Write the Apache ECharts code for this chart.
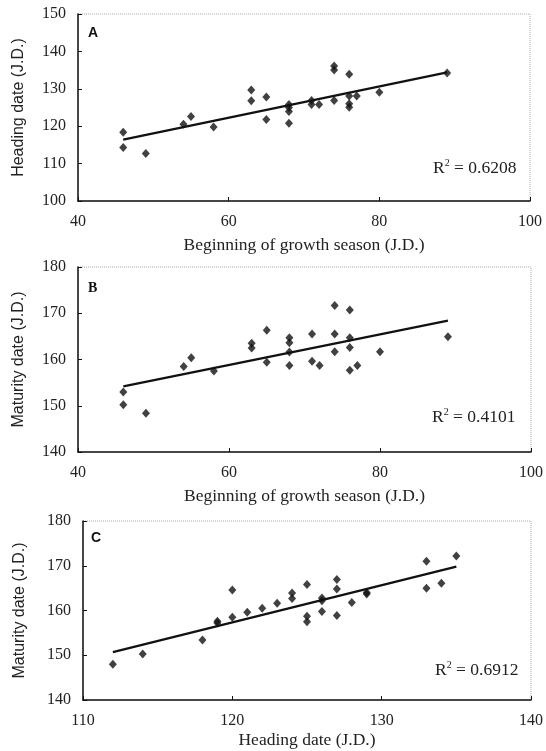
<!DOCTYPE html>
<html>
<head>
<meta charset="utf-8">
<script src="https://cdn.jsdelivr.net/npm/echarts@6/dist/echarts.min.js"></script>
<style>
  html, body { margin: 0; padding: 0; background: #fff; }
  #main { width: 546px; height: 751px; }
</style>
</head>
<body>
<div id="main"></div>
<script>
// panel A: beginning of growth season vs heading date
const pointsA = [
  [46, 118.4], [46, 114.3], [49, 112.7], [54, 120.5], [55, 122.6], [58, 119.8],
  [63, 129.7], [63, 126.8], [65, 127.8], [65, 121.8],
  [68, 125.8], [68, 125.0], [68, 123.9], [68, 120.8],
  [71, 126.9], [71, 125.8], [72, 125.8],
  [74, 126.9], [74, 136.1], [74, 135.0],
  [76, 133.9], [76, 128.1], [76, 126.0], [76, 125.1],
  [77, 128.1], [80, 129.1], [89, 134.2]
]
const trendA = [[46, 116.4], [89, 134.4]]

// panel B: beginning of growth season vs maturity date
const pointsB = [
  [46, 153.0], [46, 150.2], [49, 148.4], [54, 158.5], [55, 160.4], [58, 157.5],
  [63, 163.5], [63, 162.5], [65, 166.3], [65, 159.4],
  [68, 164.7], [68, 163.6], [68, 161.6], [68, 158.7],
  [71, 165.5], [71, 159.6], [72, 158.7],
  [74, 171.7], [74, 165.5], [74, 161.7],
  [76, 170.7], [76, 164.7], [76, 162.6], [76, 157.7],
  [77, 158.7], [80, 161.7], [89, 164.9]
]
const trendB = [[46, 154.2], [89, 168.4]]

// panel C: heading date vs maturity date
const pointsC = [
  [112, 148.0], [114, 150.3], [118, 153.4], [119, 157.2], [119, 157.6],
  [120, 164.6], [120, 158.5], [121, 159.6], [122, 160.5], [123, 161.6],
  [124, 163.9], [124, 162.7], [125, 165.8], [125, 158.7], [125, 157.5],
  [126, 162.8], [126, 162.2], [126, 159.8],
  [127, 166.9], [127, 164.8], [127, 158.9], [128, 161.8],
  [129, 164.0], [129, 163.7], [133, 171.0], [133, 165.0], [134, 166.1], [135, 172.2]
]
const trendC = [[112, 150.7], [135, 169.8]]

const r2Labels = ['0.6208', '0.4101', '0.6912']
const panelLabels = ['A', 'B', 'C']
const xNames = ['Beginning of growth season (J.D.)', 'Beginning of growth season (J.D.)', 'Heading date (J.D.)']
const yNames = ['Heading date (J.D.)', 'Maturity date (J.D.)', 'Maturity date (J.D.)']
const xRanges = [[40, 100, 20], [40, 100, 20], [110, 140, 10]]
const yRanges = [[100, 150, 10], [140, 180, 10], [140, 180, 10]]

const grids = [
  {left: 78, top: 14, width: 452, height: 187},
  {left: 78, top: 267, width: 454, height: 185},
  {left: 83, top: 521, width: 449, height: 179}
]
// where the panel letter and the R² note sit
const letterPos = [[88, 26], [88, 281], [91, 531]]
const r2Pos = [[433, 168], [432, 417], [435, 670]]
const xNameGap = [35, 35, 31]
const yNameGap = [51, 51, 55]

const serif = '"Liberation Serif", "DejaVu Serif", serif'
const sans = '"Liberation Sans", Arial, sans-serif'

const chart = echarts.init(document.getElementById('main'), null, {renderer: 'canvas'})

let xAxes = [], yAxes = [], series = [], graphics = []
grids.forEach((g, i) => {
  xAxes.push({
    gridIndex: i, type: 'value',
    min: xRanges[i][0], max: xRanges[i][1], interval: xRanges[i][2],
    name: xNames[i], nameLocation: 'middle', nameGap: xNameGap[i],
    nameTextStyle: {fontFamily: serif, fontSize: 17.5, color: '#222'},
    axisLine: {show: true, lineStyle: {color: '#111', width: 1.5}},
    axisTick: {show: true, inside: true, length: 4, lineStyle: {color: '#111'}},
    axisLabel: {fontFamily: serif, fontSize: 16, color: '#222', margin: 13},
    splitLine: {show: false}
  })
  yAxes.push({
    gridIndex: i, type: 'value',
    min: yRanges[i][0], max: yRanges[i][1], interval: yRanges[i][2],
    name: yNames[i], nameLocation: 'middle', nameGap: yNameGap[i],
    nameTextStyle: {fontFamily: sans, fontSize: 16, color: '#222'},
    axisLine: {show: true, lineStyle: {color: '#111', width: 1.5}},
    axisTick: {show: true, inside: true, length: 4, lineStyle: {color: '#111'}},
    axisLabel: {fontFamily: serif, fontSize: 16, color: '#222', margin: 12},
    splitLine: {show: false}
  })
  graphics.push({
    type: 'text', x: letterPos[i][0], y: letterPos[i][1],
    style: {text: panelLabels[i], font: 'bold 14px ' + (i === 1 ? serif : sans), fill: '#111'}
  })
  graphics.push({
    type: 'text', x: r2Pos[i][0], y: r2Pos[i][1],
    style: {
      text: '{a|R}{s|2}{a| = ' + r2Labels[i] + '}',
      verticalAlign: 'middle',
      rich: {
        a: {fontFamily: serif, fontSize: 17.5, fill: '#222', color: '#222'},
        s: {fontFamily: serif, fontSize: 10, fill: '#222', color: '#222', verticalAlign: 'top', padding: [0, 0, 9, 0]}
      }
    }
  })
})

const allPoints = [pointsA, pointsB, pointsC]
const allTrends = [trendA, trendB, trendC]
allPoints.forEach((pts, i) => {
  series.push({
    type: 'scatter', xAxisIndex: i, yAxisIndex: i,
    symbol: 'diamond', symbolSize: [8, 9],
    itemStyle: {color: '#111'},
    data: pts, silent: true
  })
  series.push({
    type: 'line', xAxisIndex: i, yAxisIndex: i,
    showSymbol: false, symbol: 'none',
    lineStyle: {color: '#111', width: 2.2},
    data: allTrends[i], silent: true
  })
})

const option = {
  backgroundColor: '#fff',
  animation: false,
  grid: grids.map(g => Object.assign({
    show: true, borderColor: '#aaa', borderWidth: 1, borderType: 'dotted', backgroundColor: 'transparent'
  }, g)),
  xAxis: xAxes,
  yAxis: yAxes,
  series: series,
  graphic: graphics
}
chart.setOption(option)
</script>
</body>
</html>
